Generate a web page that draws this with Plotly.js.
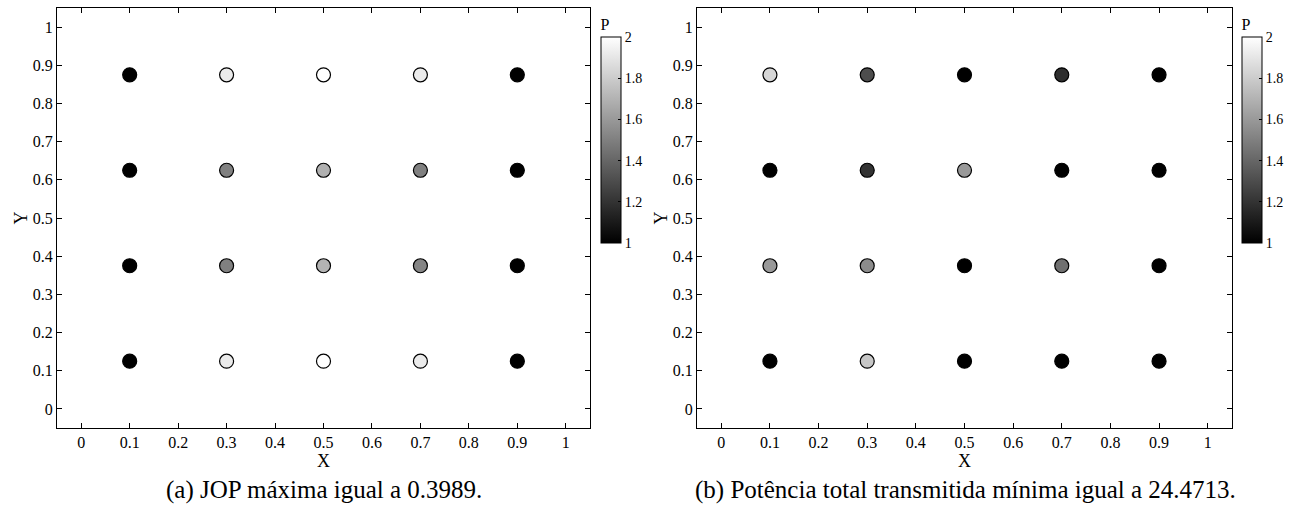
<!DOCTYPE html>
<html>
<head>
<meta charset="utf-8">
<script src="https://cdn.plot.ly/plotly-3.0.1.min.js"></script>
<style>html,body{margin:0;padding:0;background:#fff;}#chart{width:1298px;height:513px;}</style>
</head>
<body>
<div id="chart"></div>
<script>
// Grid of transmitter positions
const colsX = [0.1, 0.3, 0.5, 0.7, 0.9];
const rowsY = [0.875, 0.625, 0.375, 0.125];

// (a) power levels P per row (top to bottom)
const pA = [
  [1.00, 1.92, 2.00, 1.92, 1.00],
  [1.00, 1.50, 1.69, 1.50, 1.00],
  [1.00, 1.50, 1.70, 1.52, 1.00],
  [1.00, 1.92, 2.00, 1.92, 1.00]
];
// (b) power levels P per row (top to bottom)
const pB = [
  [1.84, 1.30, 1.00, 1.18, 1.00],
  [1.00, 1.20, 1.60, 1.00, 1.00],
  [1.60, 1.55, 1.00, 1.44, 1.00],
  [1.00, 1.78, 1.00, 1.00, 1.00]
];

const captionA = "(a) JOP máxima igual a 0.3989.";
const captionB = "(b) Potência total transmitida mínima igual a 24.4713.";
const tickVals = [0, 0.1, 0.2, 0.3, 0.4, 0.5, 0.6, 0.7, 0.8, 0.9, 1];
const cbTicks = [1, 1.2, 1.4, 1.6, 1.8, 2];

function flatten(p) {
  const x = [], y = [], c = [];
  rowsY.forEach((ry, i) => colsX.forEach((cx, j) => { x.push(cx); y.push(ry); c.push(p[i][j]); }));
  return {x, y, c};
}
const A = flatten(pA), B = flatten(pB);
const FONT = "Liberation Serif";

function trace(d, xa, ya, ca) {
  return {
    type: 'scatter', mode: 'markers', x: d.x, y: d.y, xaxis: xa, yaxis: ya,
    marker: {size: 14, color: d.c, coloraxis: ca, line: {color: '#000', width: 1.2}},
    hoverinfo: 'x+y', showlegend: false
  };
}

function axis(domain, anchor, title, isY) {
  return {
    domain: domain, anchor: anchor, range: [-0.05, 1.05],
    tickmode: 'array', tickvals: tickVals, ticktext: tickVals.map(String),
    ticks: 'inside', ticklen: 5, tickwidth: 1, tickcolor: '#000',
    showline: true, linecolor: '#000', linewidth: 1.3, mirror: 'ticks',
    showgrid: false, zeroline: false,
    tickfont: {family: FONT, size: 16, color: '#000'},
    title: {text: title, font: {family: FONT, size: 18, color: '#000'}, standoff: 0},
    fixedrange: true
  };
}

function cbar(xpos) {
  return {
    x: xpos, xanchor: 'left', xref: 'paper',
    y: 1 - 243/513, yanchor: 'bottom', yref: 'paper',
    len: 228, lenmode: 'pixels', thickness: 20, thicknessmode: 'pixels',
    outlinewidth: 1, outlinecolor: '#000',
    tickmode: 'array', tickvals: cbTicks, ticktext: cbTicks.map(String),
    ticks: 'inside', ticklen: 3, tickcolor: '#000',
    tickfont: {family: FONT, size: 14, color: '#000'},
    title: {text: 'P', side: 'top', font: {family: FONT, size: 16, color: '#000'}},
    xpad: 0, ypad: 0
  };
}

const gray = [[0, '#000000'], [1, '#ffffff']];
const yDom = [1 - 428/513, 1 - 8/513];

const layout = {
  width: 1298, height: 513,
  margin: {l: 0, r: 0, t: 0, b: 0},
  paper_bgcolor: '#fff', plot_bgcolor: '#fff',
  font: {family: FONT, color: '#000'},
  xaxis: axis([57/1298, 590/1298], 'y', 'X', false),
  yaxis: axis(yDom, 'x', 'Y', true),
  xaxis2: axis([697/1298, 1232/1298], 'y2', 'X', false),
  yaxis2: axis(yDom, 'x2', 'Y', true),
  coloraxis: {colorscale: gray, cmin: 1, cmax: 2, colorbar: cbar(601/1298)},
  coloraxis2: {colorscale: gray, cmin: 1, cmax: 2, colorbar: cbar(1242/1298)},
  annotations: [
    {text: captionA, xref: 'paper', yref: 'paper', x: 324/1298, y: 1 - 490/513, xanchor: 'center', yanchor: 'middle', showarrow: false, font: {family: FONT, size: 25, color: '#000'}},
    {text: captionB, xref: 'paper', yref: 'paper', x: 965/1298, y: 1 - 490/513, xanchor: 'center', yanchor: 'middle', showarrow: false, font: {family: FONT, size: 25, color: '#000'}}
  ]
};

Plotly.newPlot('chart', [trace(A, 'x', 'y', 'coloraxis'), trace(B, 'x2', 'y2', 'coloraxis2')], layout, {displayModeBar: false});
</script>
</body>
</html>
